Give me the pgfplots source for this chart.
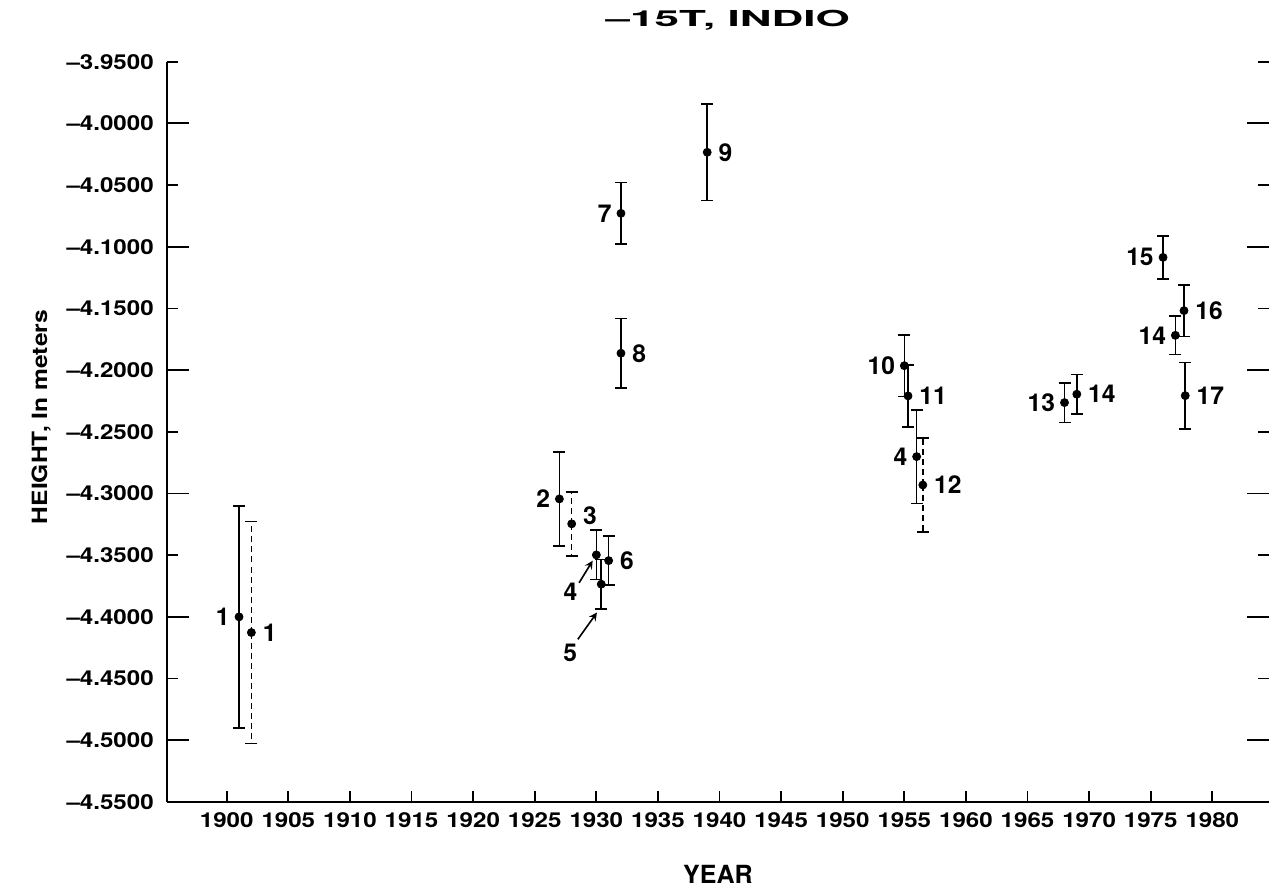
\documentclass[border=0pt]{standalone}
\usepackage{fontspec}
\setmainfont{TeX Gyre Heros}[FakeStretch=1.17]
\newfontfamily\widefont{TeX Gyre Heros}[FakeStretch=2.0]
\newfontfamily\labfont{TeX Gyre Heros}
\usepackage{pgfplots}
\usepackage{pgfplotstable}
\pgfplotsset{compat=1.18}

\pgfplotstableread{
x y e lab
1901 -4.4000 0.090 1
1927 -4.3044 0.038 2
1932 -4.0729 0.025 7
1955 -4.1964 0.025 10
1956 -4.2701 0.038 4
1968 -4.2263 0.016 13
1976 -4.1086 0.0175 15
1977 -4.1718 0.0155 14
}\leftlab

\pgfplotstableread{
x y e lab
1931 -4.3544 0.020 6
1932 -4.1863 0.028 8
1939 -4.0234 0.039 9
1955.3 -4.2209 0.025 11
1969 -4.2195 0.016 14
1977.7 -4.1518 0.021 16
1977.8 -4.2207 0.027 17
}\rightlab

\pgfplotstableread{
x y e lab
1902 -4.4127 0.090 1
1956.5 -4.2931 0.038 12
}\rightdash

\pgfplotstableread{
x y e lab
1928 -4.3246 0.026 3
}\rightup

\pgfplotstableread{
x y e
1930 -4.3498 0.020
1930.4 -4.3735 0.020
}\arrowpts

\begin{document}
\begin{tikzpicture}
\pgfplotsset{
  common/.style={
    scale only axis, width=551pt, height=370pt,
    xmin=1895.13, xmax=1984.6, ymin=-4.55, ymax=-3.95,
    tick align=inside,
    major tick length=5.5pt,
    ytick={-4.55,-4.5,-4.45,-4.4,-4.35,-4.3,-4.25,-4.2,-4.15,-4.1,-4.05,-4.0,-3.95},
    extra y ticks={-4.5,-4.4,-4.3,-4.2,-4.1,-4.0},
    extra y tick labels={},
    extra y tick style={major tick length=11pt},
    tick style={line width=0.9pt, black},
  },
  pts/.style={only marks, mark=*, mark size=2pt, black,
    mark options={fill=black, draw=black},
    error bars/y dir=both, error bars/y explicit,
    error bars/error bar style={line width=0.8pt, black},
    error bars/error mark options={rotate=90, line width=0.8pt, mark size=3pt, black}},
  labl/.style={point meta=explicit symbolic, nodes near coords,
    nodes near coords align={left},
    every node near coord/.append style={font=\labfont\bfseries\fontsize{12.3}{13}\selectfont, inner sep=1pt, xshift=-3.5pt, black}},
  labr/.style={point meta=explicit symbolic, nodes near coords,
    nodes near coords align={right},
    every node near coord/.append style={font=\labfont\bfseries\fontsize{12.3}{13}\selectfont, inner sep=1pt, xshift=4.5pt, black}},
}
\begin{axis}[
  common,
  axis lines*=left,
  axis line style={line width=1pt, black},
  /pgf/number format/assume math mode=true,
  xtick={1900,1905,...,1980},
  xticklabel style={font=\bfseries\fontsize{10.3}{11}\selectfont, /pgf/number format/1000 sep={}, yshift=-2pt},
  yticklabels={–4.5500,–4.5000,–4.4500,–4.4000,–4.3500,–4.3000,–4.2500,–4.2000,–4.1500,–4.1000,–4.0500,–4.0000,–3.9500},
  yticklabel style={font=\bfseries\fontsize{10.3}{11}\selectfont, xshift=-3pt},
  every axis title shift=0pt,
  title={\widefont\bfseries\fontsize{11}{12}\selectfont –15T, INDIO},
  title style={at={(rel axis cs:0.509,1)}, anchor=base, yshift=17.5pt, inner sep=0pt},
  xlabel={\labfont\bfseries\fontsize{12.5}{13}\selectfont YEAR},
  xlabel style={at={(rel axis cs:0.5,0)}, anchor=center, yshift=-36pt},
  ylabel={\bfseries\fontsize{10.5}{11}\selectfont HEIGHT, In meters},
  ylabel style={at={(axis description cs:-0.114,0.52)}, anchor=center, rotate=0},
]
\addplot[pts, labl] table[x=x, y=y, y error=e, meta=lab] {\leftlab};
\addplot[pts, labr] table[x=x, y=y, y error=e, meta=lab] {\rightlab};
\addplot[pts, labr, error bars/error bar style={line width=0.8pt, black, densely dashed}] table[x=x, y=y, y error=e, meta=lab] {\rightdash};
\addplot[pts, labr, error bars/error bar style={line width=0.8pt, black, densely dashed},
  every node near coord/.append style={yshift=4pt}] table[x=x, y=y, y error=e, meta=lab] {\rightup};
\addplot[pts] table[x=x, y=y, y error=e] {\arrowpts};
\node[font=\labfont\bfseries\fontsize{12.3}{13}\selectfont] at (axis cs:1927.9,-4.3795) {4};
\draw[-stealth, line width=0.8pt] (axis cs:1928.6,-4.3724) -- (axis cs:1929.7,-4.3545);
\node[font=\labfont\bfseries\fontsize{12.3}{13}\selectfont] at (axis cs:1927.87,-4.4295) {5};
\draw[-stealth, line width=0.8pt] (axis cs:1928.5,-4.4182) -- (axis cs:1930.05,-4.3965);
\end{axis}
\begin{axis}[
  common,
  axis y line*=right,
  axis x line=none,
  y axis line style={draw=none},
  yticklabels={},
]
\end{axis}
\pgfresetboundingbox
\path (current axis.south west) ++(-83.35pt,-42.5pt) rectangle ([yshift=30.85pt]current axis.north east);
\end{tikzpicture}
\end{document}
